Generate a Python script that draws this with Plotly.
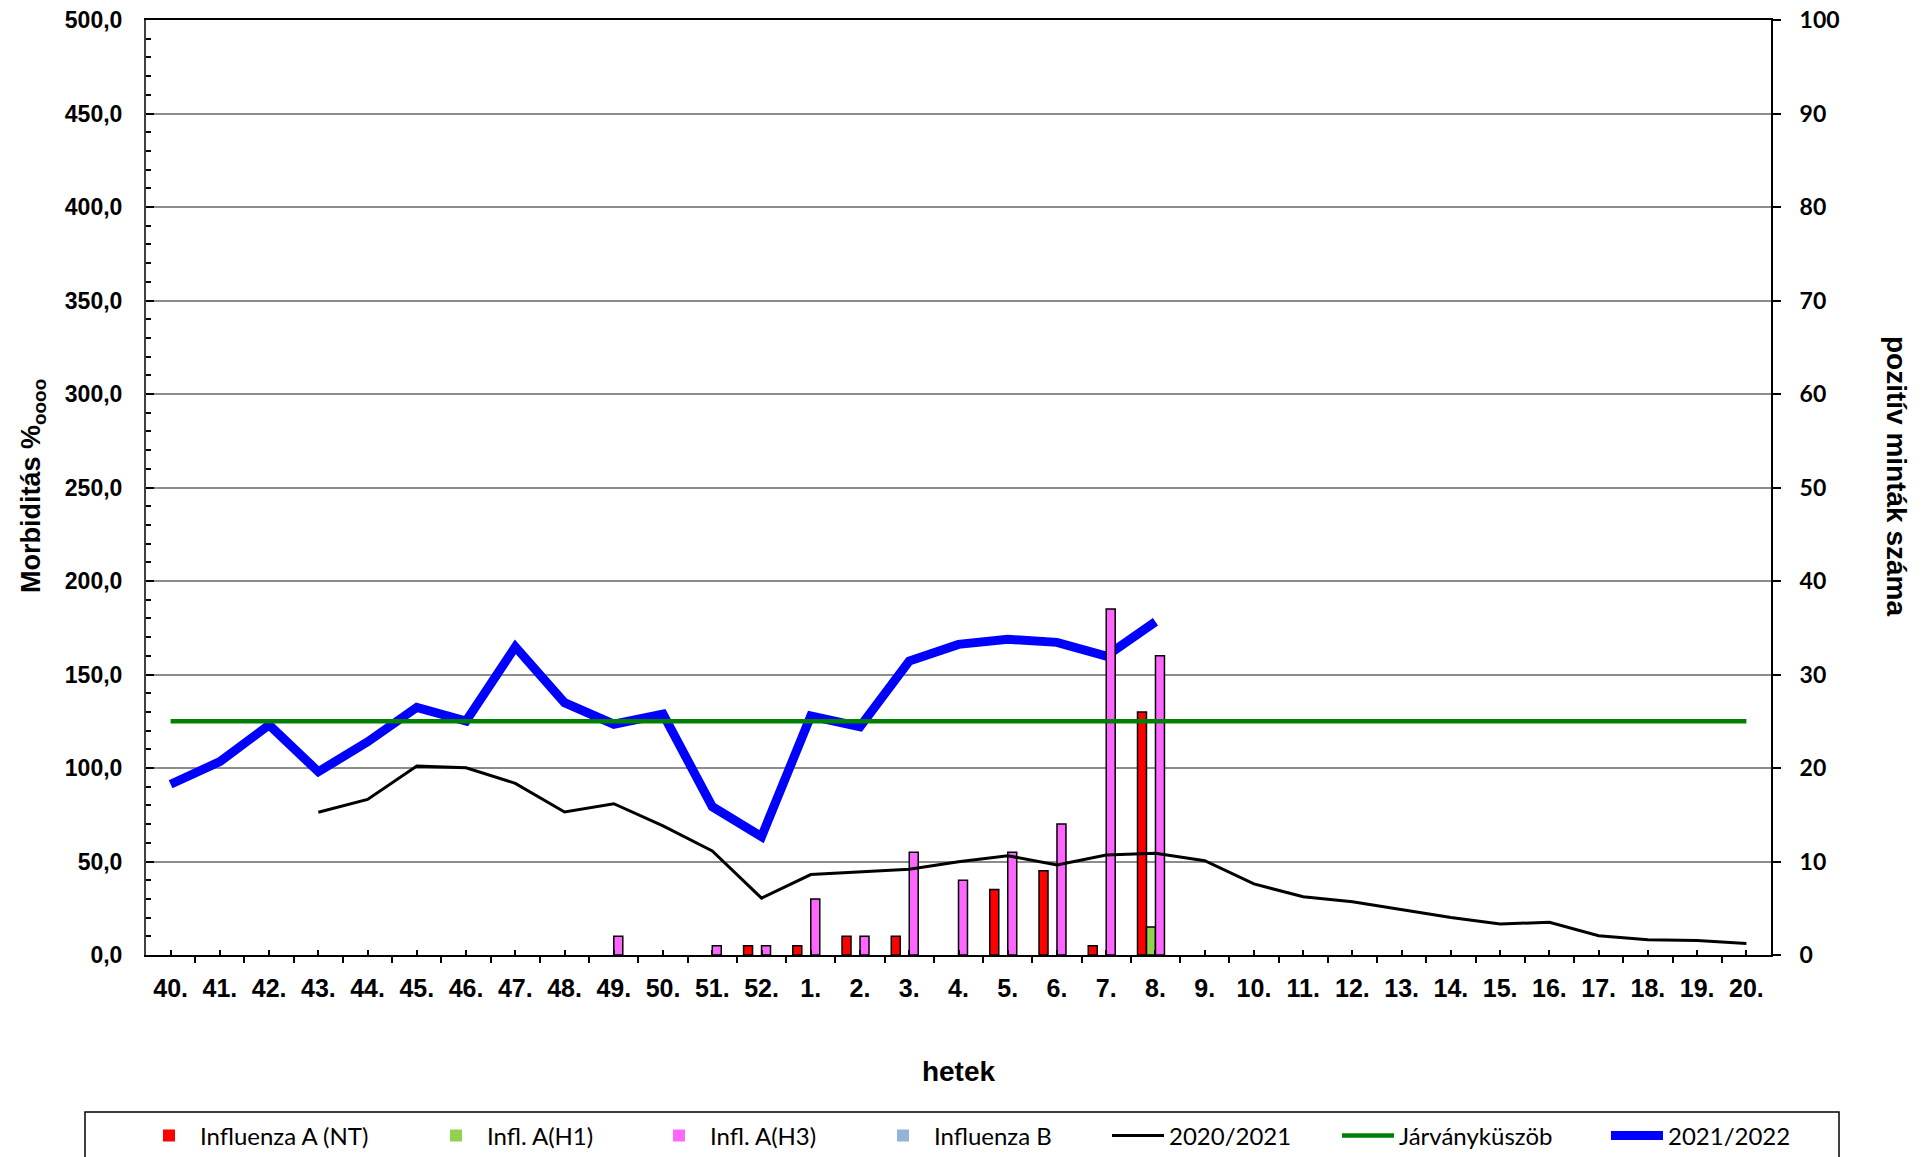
import plotly.graph_objects as go

# ---------------- data ----------------
weeks = ["40.", "41.", "42.", "43.", "44.", "45.", "46.", "47.", "48.", "49.", "50.", "51.", "52.",
         "1.", "2.", "3.", "4.", "5.", "6.", "7.", "8.", "9.", "10.", "11.", "12.", "13.", "14.",
         "15.", "16.", "17.", "18.", "19.", "20."]

infl_a_nt = [0, 0, 0, 0, 0, 0, 0, 0, 0, 0, 0, 0, 1,
             1, 2, 2, 0, 7, 9, 1, 26] + [None] * 12
infl_a_h1 = [0, 0, 0, 0, 0, 0, 0, 0, 0, 0, 0, 0, 0,
             0, 0, 0, 0, 0, 0, 0, 3] + [None] * 12
infl_a_h3 = [0, 0, 0, 0, 0, 0, 0, 0, 0, 2, 0, 1, 1,
             6, 2, 11, 8, 11, 14, 37, 32] + [None] * 12
infl_b = [0] * 21 + [None] * 12

season_2020_21 = [None, None, None, 76.3, 83.2, 101.0, 100.1, 91.8, 76.5, 80.9, 69.0, 55.6, 30.4,
                  43.0, 44.5, 45.8, 49.9, 53.1, 48.1, 53.5, 54.4, 50.4, 38.0, 31.2, 28.5, 24.4,
                  20.0, 16.6, 17.5, 10.3, 8.2, 7.7, 6.2]
threshold = [125.0] * 33
season_2021_22 = [91.3, 103.4, 123.0, 98.0, 114.0, 132.4, 125.1, 164.8, 134.9, 123.4, 128.8, 79.3, 63.3,
                  127.8, 122.1, 157.2, 166.1, 168.8, 167.2, 159.9, 178.2] + [None] * 12

left_ticks = [0, 50, 100, 150, 200, 250, 300, 350, 400, 450, 500]
right_ticks = [0, 10, 20, 30, 40, 50, 60, 70, 80, 90, 100]

# ---------------- layout geometry (page pixels; page body has an 8px margin) ----------------
OFF = 8
W, H = 1931 - OFF, 1157 - OFF
L, R, T, B = 146 - OFF, 1771 - OFF, 20 - OFF, 955 - OFF
pw, ph = R - L, B - T


def px_x(p):
    return (p - OFF - L) / pw


def px_y(p):
    return (B - (p - OFF)) / ph


x = list(range(len(weeks)))
ARIAL = "Liberation Sans, Arial, sans-serif"
CALIBRI = "Lato, Carlito, Calibri, sans-serif"

fig = go.Figure()

# 2021/2022 line (drawn below the bars)
fig.add_trace(go.Scatter(x=x, y=season_2021_22, mode="lines", name="2021/2022",
                         line=dict(color="#0000FF", width=9), yaxis="y",
                         legend="legend7", connectgaps=False))

bar_specs = [
    ("Influenza A (NT)", infl_a_nt, "#FF0000", "legend"),
    ("Infl. A(H1)", infl_a_h1, "#92D050", "legend2"),
    ("Infl. A(H3)", infl_a_h3, "#FF66FF", "legend3"),
    ("Influenza B", infl_b, "#95B3D7", "legend4"),
]
for name, vals, col, lg in bar_specs:
    widths = [1.5 if v else 0 for v in vals]
    fig.add_trace(go.Bar(x=x, y=vals, name=name, yaxis="y2", legend=lg,
                         marker=dict(color=col, line=dict(color="#000000", width=widths))))

fig.add_trace(go.Scatter(x=x, y=season_2020_21, mode="lines", name="2020/2021",
                         line=dict(color="#000000", width=3), yaxis="y3", legend="legend5"))
fig.add_trace(go.Scatter(x=x, y=threshold, mode="lines", name="Járványküszöb",
                         line=dict(color="#008000", width=4.5), yaxis="y3", legend="legend6"))

# legends: one per entry, positioned like the original
legend_left_px = [138, 425, 648, 872, 1107, 1337, 1606]
legend_y = px_y(1136)
leg_common = dict(orientation="h", yanchor="middle", xanchor="left", y=legend_y,
                  bgcolor="rgba(0,0,0,0)", borderwidth=0, itemwidth=52,
                  font=dict(family=CALIBRI, size=24, color="#000000"))
legends = {}
for i, lp in enumerate(legend_left_px):
    key = "legend" if i == 0 else f"legend{i + 1}"
    legends[key] = dict(leg_common, x=px_x(lp))

fig.update_layout(
    width=W, height=H,
    margin=dict(l=L, r=W - R, t=T, b=H - B, pad=0, autoexpand=False),
    paper_bgcolor="white", plot_bgcolor="white",
    separators=", ",
    barmode="group", bargap=0.27, bargroupgap=0,
    showlegend=True,
    xaxis=dict(
        range=[-0.5, len(weeks) - 0.5],
        tickmode="array", tickvals=x, ticktext=weeks,
        ticks="inside", ticklen=5, tickwidth=1.5, tickcolor="#000000",
        minor=dict(tickmode="linear", tick0=-0.5, dtick=1, ticks="outside",
                   ticklen=6, tickwidth=1.5, tickcolor="#000000", showgrid=False),
        showline=True, linecolor="#000000", linewidth=2, mirror=True,
        showgrid=False, zeroline=False,
        tickfont=dict(family=ARIAL, size=25, color="#000000", weight="bold"),
        ticklabelstandoff=10, ticklabeloverflow="allow",
        title=dict(text="hetek", standoff=60,
                   font=dict(family=ARIAL, size=28, color="#000000", weight="bold")),
    ),
    yaxis=dict(
        range=[0, 500], tickmode="array", tickvals=left_ticks, tickformat=".1f",
        ticks="inside", ticklen=8, tickwidth=1.5, tickcolor="#000000",
        minor=dict(tickmode="linear", tick0=0, dtick=10, ticks="inside", ticklen=5,
                   tickwidth=1.5, tickcolor="#000000", showgrid=False),
        showline=True, linecolor="#404040", linewidth=2,
        showgrid=True, gridcolor="#8c8c8c", gridwidth=1.5, zeroline=False,
        tickfont=dict(family=ARIAL, size=23, color="#000000", weight="bold"),
        ticklabelstandoff=17, ticklabeloverflow="allow",
    ),
    yaxis2=dict(
        range=[0, 100], tickmode="array", tickvals=right_ticks, overlaying="y", side="right",
        ticks="outside", ticklen=8, tickwidth=1.5, tickcolor="#000000",
        showline=True, linecolor="#000000", linewidth=2,
        showgrid=False, zeroline=False,
        tickfont=dict(family=CALIBRI, size=23, color="#000000", weight="bold"),
        ticklabelstandoff=14, ticklabeloverflow="allow",
    ),
    yaxis3=dict(range=[0, 500], overlaying="y", visible=False, showgrid=False, zeroline=False),
    **legends,
    annotations=[
        dict(text="Morbiditás %<sub>oooo</sub>", textangle=-90,
             x=px_x(33), y=px_y(486), xref="paper", yref="paper",
             xanchor="center", yanchor="middle", showarrow=False,
             font=dict(family=ARIAL, size=27, color="#000000", weight="bold")),
        dict(text="pozitív minták száma", textangle=90,
             x=px_x(1897), y=px_y(476), xref="paper", yref="paper",
             xanchor="center", yanchor="middle", showarrow=False,
             font=dict(family=ARIAL, size=28, color="#000000", weight="bold")),
    ],
    shapes=[
        dict(type="rect", xref="paper", yref="paper",
             x0=px_x(85), x1=px_x(1839), y0=px_y(1112), y1=px_y(1175),
             line=dict(color="#000000", width=1.5), fillcolor="rgba(0,0,0,0)", layer="above"),
    ],
)

fig.write_html("out.html")
